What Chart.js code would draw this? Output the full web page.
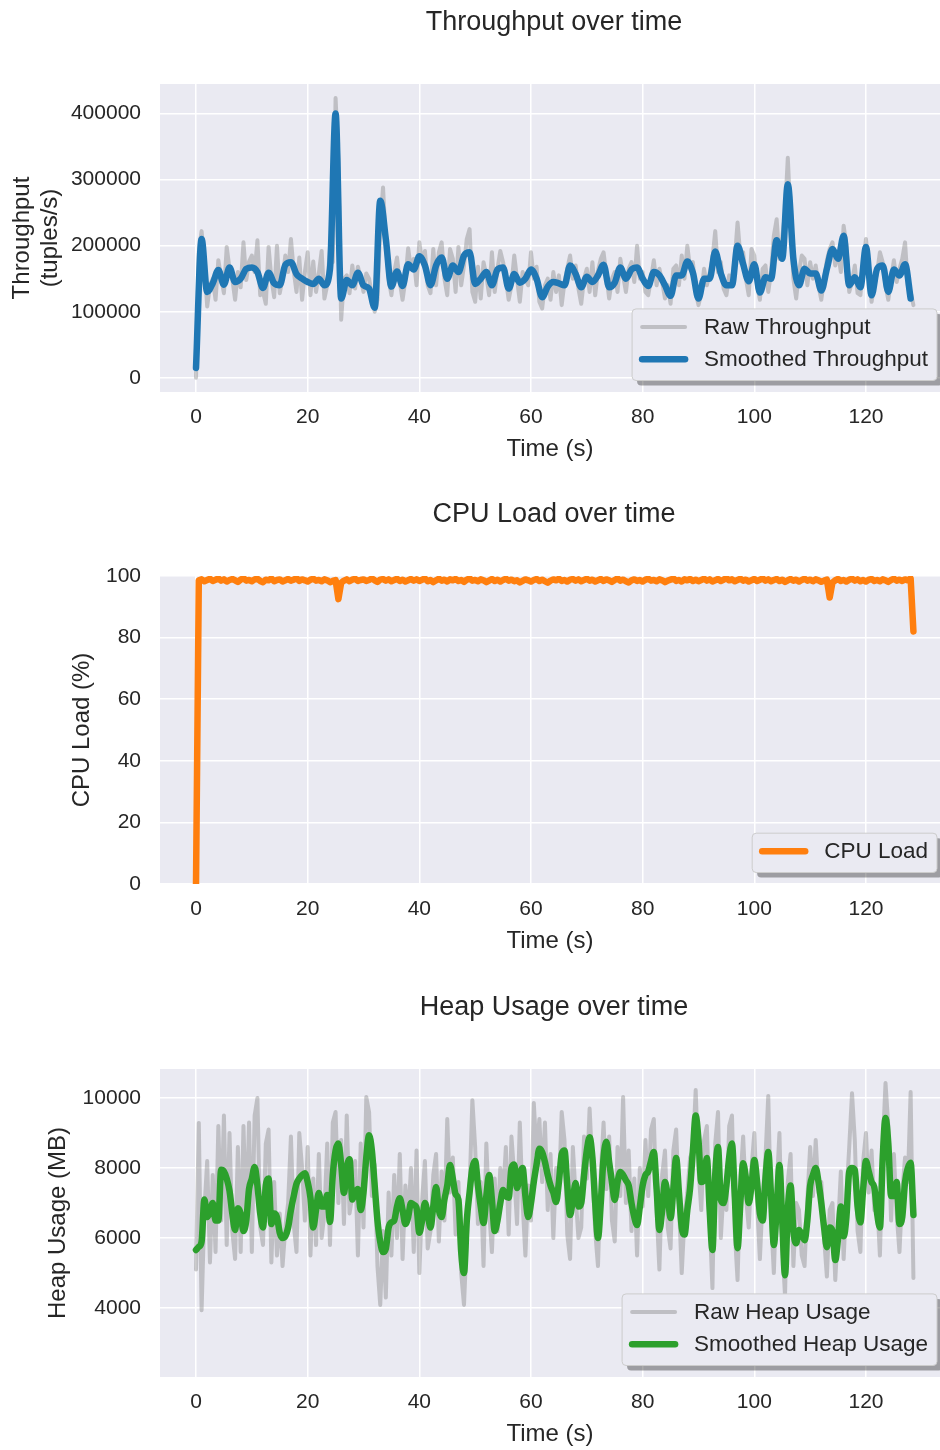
<!DOCTYPE html>
<html>
<head>
  <title>Stream Job Metrics</title>
  <meta charset="UTF-8">
  <script src="https://cdn.jsdelivr.net/npm/chart.js"></script>
  <style>
    body { margin: 0; background: #fff; }
    #wrap { position: relative; width: 940px; height: 1450px; overflow: hidden; }
    #wrap canvas { position: absolute; left: 0; }
  </style>
</head>
<body>
<div id="wrap">
  <canvas id="throughputChart" width="940" height="465" style="top:0px"></canvas>
  <canvas id="cpuChart" width="940" height="465" style="top:492px"></canvas>
  <canvas id="heapChart" width="940" height="465" style="top:985px"></canvas>
</div>

<script>
  // raw metrics are sampled every 0.5 s, the smoothed throughput every 1 s
  const RAW_STEP = 0.5;
  const SMOOTH_STEP = 1;

  const timeTicks = [0, 20, 40, 60, 80, 100, 120];
  const throughputTicks = [0, 100000, 200000, 300000, 400000];
  const cpuTicks = [0, 20, 40, 60, 80, 100];
  const heapTicks = [4000, 6000, 8000, 10000];

  const rawThroughput = [
    0, 190000, 222000, 175000, 108000, 140000, 150000, 118000, 178000, 152000,
    128000, 198000, 165000, 150000, 118000, 160000, 137000, 205000, 148000, 176000,
    185000, 160000, 208000, 125000, 130000, 112000, 198000, 150000, 122000, 200000,
    128000, 150000, 185000, 160000, 210000, 162000, 130000, 182000, 118000, 160000,
    190000, 125000, 176000, 130000, 158000, 192000, 120000, 140000, 195000, 175000,
    423500, 330000, 88000, 150000, 155000, 128000, 170000, 135000, 168000, 150000,
    130000, 158000, 150000, 125000, 100000, 118000, 230000, 288000, 205000, 150000,
    125000, 160000, 182000, 145000, 118000, 148000, 196000, 165000, 180000, 140000,
    205000, 175000, 192000, 140000, 128000, 195000, 140000, 190000, 205000, 150000,
    125000, 195000, 180000, 130000, 198000, 140000, 170000, 210000, 225000, 130000,
    115000, 168000, 120000, 175000, 155000, 125000, 190000, 130000, 165000, 192000,
    175000, 150000, 118000, 140000, 185000, 150000, 115000, 160000, 150000, 140000,
    190000, 150000, 168000, 115000, 105000, 140000, 150000, 118000, 160000, 130000,
    155000, 110000, 145000, 165000, 185000, 150000, 170000, 135000, 112000, 150000,
    165000, 130000, 175000, 125000, 162000, 180000, 190000, 155000, 120000, 150000,
    160000, 130000, 180000, 155000, 130000, 165000, 175000, 145000, 200000, 150000,
    160000, 130000, 125000, 150000, 178000, 140000, 165000, 145000, 120000, 140000,
    112000, 165000, 170000, 140000, 185000, 150000, 200000, 165000, 175000, 130000,
    110000, 128000, 165000, 140000, 158000, 180000, 222000, 160000, 175000, 135000,
    125000, 155000, 150000, 180000, 235000, 185000, 190000, 150000, 125000, 195000,
    185000, 140000, 118000, 165000, 170000, 130000, 160000, 215000, 240000, 180000,
    212000, 250000, 333000, 240000, 150000, 120000, 160000, 185000, 180000, 140000,
    175000, 150000, 170000, 140000, 118000, 150000, 178000, 195000, 205000, 170000,
    190000, 160000, 230000, 200000, 130000, 145000, 170000, 128000, 125000, 170000,
    210000, 165000, 115000, 140000, 160000, 190000, 175000, 140000, 118000, 150000,
    178000, 145000, 165000, 180000, 205000, 140000, 130000, 110000
  ];

  const smoothThroughput = [
    15000, 210000, 130000, 143000, 163000, 141000, 167000, 145000, 150000, 165000,
    167000, 160000, 136000, 159000, 143000, 140000, 171000, 175000, 157000, 150000,
    145000, 142000, 150000, 140000, 165000, 400000, 120000, 148000, 140000, 159000,
    140000, 135000, 106000, 268000, 210000, 138000, 161000, 139000, 172000, 164000,
    184000, 170000, 140000, 170000, 182000, 150000, 170000, 160000, 185000, 190000,
    142000, 150000, 160000, 140000, 164000, 167000, 135000, 157000, 144000, 150000,
    164000, 150000, 122000, 138000, 145000, 143000, 140000, 170000, 157000, 137000,
    153000, 145000, 155000, 171000, 137000, 144000, 167000, 150000, 164000, 167000,
    150000, 139000, 160000, 155000, 140000, 124000, 155000, 155000, 176000, 159000,
    120000, 150000, 150000, 191000, 158000, 140000, 140000, 200000, 172000, 146000,
    172000, 129000, 152000, 150000, 208000, 180000, 293000, 180000, 140000, 165000,
    158000, 158000, 132000, 165000, 195000, 180000, 215000, 140000, 152000, 137000,
    198000, 125000, 165000, 170000, 130000, 164000, 155000, 172000, 120000
  ];

  const cpuLoad = [
    0, 98.6, 98.9, 98.3, 98.7, 99.1, 98.4, 98.8, 99.2, 98.5, 98.9, 98.2, 98.7, 99.0, 98.6, 98.1, 98.8, 99.3, 98.5, 98.7,
    98.3, 98.9, 99.1, 98.4, 98.0, 98.8, 98.6, 99.2, 98.3, 98.7, 98.9, 98.2, 98.6, 99.0, 98.5, 98.8, 99.3, 98.4, 98.9, 98.6,
    98.2, 98.8, 99.1, 98.5, 98.7, 98.3, 98.9, 98.6, 98.0, 98.4, 98.7, 92.5, 97.8, 98.5, 98.9, 98.3, 98.8, 99.1, 98.4, 98.7,
    98.9, 98.4, 98.7, 99.2, 98.6, 98.1, 98.8, 99.0, 98.5, 98.9, 98.3, 98.7, 99.1, 98.4, 98.8, 98.2, 98.6, 99.0, 98.5, 98.9,
    98.4, 98.8, 99.2, 98.3, 98.7, 98.0, 98.6, 99.1, 98.5, 98.8, 98.2, 98.9, 98.6, 99.0, 98.4, 98.7, 98.1, 98.8, 99.2, 98.5,
    98.7, 98.3, 98.9, 98.6, 98.0, 98.5, 99.0, 98.4, 98.8, 98.2, 98.7, 99.1, 98.5, 98.8, 98.3, 98.6, 97.9, 98.4, 98.9, 98.6,
    98.2, 98.7, 99.0, 98.4, 98.8, 98.3, 97.8, 98.5, 98.9, 98.6, 99.1, 98.4, 98.7, 98.2, 98.8, 99.0, 98.5, 98.9, 98.3, 98.7,
    99.1, 98.5, 98.8, 98.2, 98.6, 99.0, 98.4, 98.9, 98.6, 98.1, 98.7, 99.2, 98.5, 98.8, 98.3, 97.9, 98.6, 98.9, 98.4, 98.7,
    98.2, 98.8, 99.1, 98.5, 98.7, 98.3, 98.9, 98.6, 98.0, 98.5, 98.8, 99.2, 98.4, 98.7, 98.2, 98.9, 98.6, 99.0, 98.4, 98.8,
    98.3, 98.7, 99.1, 98.5, 98.9, 98.2, 98.6, 99.0, 98.4, 98.8, 99.3, 98.6, 98.9, 98.3, 98.7, 99.1, 98.5, 98.8, 98.2, 98.6,
    99.0, 98.4, 98.8, 99.2, 98.5, 98.9, 98.3, 98.7, 99.0, 98.4, 98.8, 98.1, 98.6, 99.0, 98.5, 98.8, 98.2, 98.7, 99.1, 98.5,
    98.8, 98.3, 98.9, 98.6, 98.1, 98.5, 98.8, 93.0, 97.9, 98.6, 99.0, 98.4, 98.7, 98.2, 98.8, 99.1, 98.5, 98.9, 98.3, 98.7,
    98.2, 98.8, 99.0, 98.4, 98.7, 98.3, 98.9, 98.6, 98.1, 98.7, 99.1, 98.5, 98.8, 98.4, 98.9, 98.6, 99.2, 82.0
  ];

  const rawHeap = [
    5100, 9290, 3940, 6800, 8200, 5300, 7800, 5600, 9200, 6500, 9500, 5800, 9000, 6200, 5400, 8600, 5600, 9200, 6400, 9300,
    5600, 9500, 10000, 6300, 5800, 8700, 9100, 5300, 7600, 5500, 6700, 5200, 6300, 7000, 8900, 6400, 5600, 9000, 8000, 6500,
    8600, 5500, 7700, 5800, 8400, 6000, 6700, 8700, 5800, 9300, 9600, 7000, 8800, 6400, 9500, 6700, 7200, 8200, 5500, 8700,
    6300, 10030, 9600, 7200, 8100, 5200, 4090, 6200, 4300, 7300, 5500, 7800, 6000, 8400, 5400, 7500, 6500, 8000, 5600, 8500,
    5000, 7100, 8200, 5700, 6200, 7800, 8400, 5900, 7900, 6500, 9400, 7300, 8300, 6100, 7600, 5000, 4090, 6000, 7400, 9940,
    8600, 6400, 7600, 5200, 8700, 6800, 5600, 7700, 6200, 8000, 7200, 8600, 6100, 8900, 7800, 6400, 9300, 7000, 5500, 7500,
    6500, 9860, 8400, 9400, 7600, 9300, 6800, 8400, 6000, 8000, 7300, 9600, 8800, 6100, 5400, 8600, 7200, 6000, 6300, 8900,
    7700, 9700, 8000, 6200, 5200, 7800, 9300, 7400, 8900, 6500, 5900, 8600, 7200, 10030, 7000, 8500, 6200, 7700, 5500, 8000,
    6900, 8800, 7200, 9100, 9400, 6800, 5100, 7800, 8500, 6300, 5700, 8500, 9100, 7000, 5000, 6600, 7300, 8300, 8500, 10230,
    8000, 6800, 8800, 9200, 6500, 4570, 8700, 9600, 6000, 7400, 6800, 9200, 9500, 6200, 4800, 7600, 8900, 7200, 6300, 8000,
    9000, 7000, 5400, 7200, 8300, 10060, 6600, 5000, 7400, 9000, 5800, 4370, 7600, 8400, 5200, 7000, 6800, 5500, 5200, 7100,
    8600, 7200, 8800, 7300, 7600, 6000, 4900, 6800, 7000, 4800, 6300, 7900, 5400, 7200, 8600, 10140, 8800, 6200, 5600, 8200,
    9000, 7300, 8500, 6800, 7100, 5500, 8600, 10430, 9200, 6500, 8400, 6700, 5600, 7300, 8300, 7600, 10170, 4860
  ];

  const smoothHeap = [
    5660, 5750, 5900, 7100, 6600, 6750, 7000, 6500, 6500, 7950, 7900, 7700, 7350, 6700, 6230, 6850, 6700, 6200, 6500, 7400,
    7700, 8030, 7500, 6700, 6300, 7500, 7700, 6400, 6700, 6600, 6150, 6000, 6050, 6300, 6800, 7200, 7550, 7700, 7800, 7850,
    7600, 7150, 6300, 6800, 7290, 6900, 6900, 7230, 6460, 7800, 8500, 8700, 8100, 7290, 8000, 8250, 7100, 7300, 7400, 6800,
    7300, 8300, 8940, 8500, 7510, 6500, 5890, 5600, 5700, 6300, 6450, 6500, 6900, 7140, 6800, 6400, 6600, 7000, 6950, 6860,
    6150, 6500, 7000, 6700, 6300, 6900, 7460, 6800, 6600, 7100, 7500, 8090, 7700, 7250, 7100, 5600, 5000, 6500, 7300, 8000,
    8200, 7500, 6900, 6430, 7200, 7800, 7100, 6200, 6500, 7000, 7370, 7200, 7150, 8000, 8100, 7430, 7800, 8000, 7200, 6600,
    7000, 7600, 8100, 8550, 8450, 8170, 7800, 7500, 7300, 7030, 7600, 8400, 8500, 7500, 6660, 7100, 7570, 6900, 7000, 7800,
    8500, 8880, 8300, 7000, 6000, 7000, 8300, 8750, 8170, 7600, 7090, 7600, 7890, 7800, 7650, 7500, 7000, 6600, 6370, 6900,
    7500, 7800, 7900, 8200, 8460, 7400, 6230, 6800, 7600, 7200, 6570, 7400, 8290, 7300, 6300, 6100, 6800, 7430, 8500, 9500,
    8800, 7600, 7700, 8290, 6800, 5660, 7800, 8600, 7100, 7000, 7500, 8300, 8700, 7200, 5710, 7000, 8140, 7700, 7000, 7500,
    8230, 7600, 6700, 6500, 7700, 8460, 7200, 5800, 6800, 8090, 6500, 4940, 6800, 7500, 6200, 5850, 6230, 6100, 5940, 6500,
    7500, 7800, 8000, 7600, 7000, 6300, 5740, 6300, 6200, 5370, 6000, 6900, 6050, 6600, 7900, 8000, 7940, 6900, 6450, 7400,
    8200, 7900, 7600, 7450, 6700, 6300, 8300, 9430, 8700, 7200, 7200, 7600, 6400, 6600, 7600, 8000, 8150, 6660
  ];

  const FONT = '"Liberation Sans", Arial, Helvetica, sans-serif';
  const INK = '#262626';
  const PANEL_BG = '#EAEAF2';
  const RAW_GREY = 'rgba(128, 128, 128, 0.4)';

  // x range includes the usual 5% side margin; the right part runs off the page
  const X_MIN = -6.45;
  const X_MAX = 133.26;

  function toPoints(values, step) {
    return values.map((v, i) => ({ x: i * step, y: v }));
  }

  // grey panel, panel title and a shadowed legend in the lower right corner
  const panelDecor = {
    id: 'panelDecor',
    beforeDraw(chart) {
      const { ctx, chartArea: a } = chart;
      ctx.save();
      ctx.fillStyle = PANEL_BG;
      ctx.fillRect(a.left, a.top, a.right - a.left, a.bottom - a.top);
      ctx.restore();
    },
    afterDraw(chart, args, opts) {
      const { ctx, chartArea: a } = chart;
      ctx.save();
      ctx.fillStyle = INK;
      ctx.font = '27px ' + FONT;
      ctx.textAlign = 'center';
      ctx.textBaseline = 'middle';
      ctx.fillText(opts.title, 554, 23);

      const sets = chart.data.datasets;
      ctx.font = '22.5px ' + FONT;
      const textW = Math.max(...sets.map(d => ctx.measureText(d.label).width));
      const w = 72 + textW + 9;
      const h = 7 + 32.3 * sets.length;
      const x = 937 - w;
      const y = a.bottom - 11.5 - h;

      ctx.fillStyle = 'rgba(0, 0, 0, 0.33)';
      ctx.beginPath();
      ctx.roundRect(x + 5, y + 5, w, h, 4);
      ctx.fill();
      ctx.fillStyle = PANEL_BG;
      ctx.strokeStyle = '#cccccc';
      ctx.lineWidth = 1;
      ctx.beginPath();
      ctx.roundRect(x, y, w, h, 4);
      ctx.fill();
      ctx.stroke();

      sets.forEach((d, i) => {
        const cy = y + 18 + 32.3 * i;
        ctx.strokeStyle = d.borderColor;
        ctx.lineWidth = d.borderWidth;
        ctx.lineCap = 'round';
        ctx.beginPath();
        ctx.moveTo(x + 10, cy);
        ctx.lineTo(x + 53, cy);
        ctx.stroke();
        ctx.fillStyle = INK;
        ctx.textAlign = 'left';
        ctx.fillText(d.label, x + 72, cy + 1);
      });
      ctx.restore();
    }
  };

  function makePanel(id, cfg) {
    return new Chart(document.getElementById(id), {
      type: 'line',
      data: { datasets: cfg.datasets },
      options: {
        responsive: false,
        animation: false,
        devicePixelRatio: 1,
        layout: { padding: { top: 84, right: 0, bottom: 0, left: 0 } },
        elements: {
          point: { radius: 0 },
          line: { borderJoinStyle: 'round', borderCapStyle: 'round' }
        },
        plugins: {
          legend: { display: false },
          tooltip: { enabled: false },
          panelDecor: { title: cfg.title }
        },
        scales: {
          x: {
            type: 'linear',
            min: X_MIN,
            max: X_MAX,
            afterBuildTicks: s => { s.ticks = timeTicks.map(v => ({ value: v })); },
            afterFit: s => { s.height = 73; },
            grid: { color: '#ffffff', lineWidth: 1.5, drawTicks: false },
            border: { display: false },
            ticks: {
              color: INK, font: { family: FONT, size: 21 }, padding: 13,
              maxRotation: 0, autoSkip: false, callback: v => String(v)
            },
            title: {
              display: true, text: 'Time (s)', color: INK,
              font: { family: FONT, size: 24 }, padding: { top: 0, bottom: 1 }
            }
          },
          y: {
            min: cfg.yMin,
            max: cfg.yMax,
            afterBuildTicks: s => { s.ticks = cfg.yTicks.map(v => ({ value: v })); },
            afterFit: s => { s.width = 160; },
            grid: { color: '#ffffff', lineWidth: 1.5, drawTicks: false },
            border: { display: false },
            ticks: {
              color: INK, font: { family: FONT, size: 21 }, padding: 19,
              autoSkip: false, callback: v => String(v)
            },
            title: {
              display: true, text: cfg.yTitle, color: INK,
              font: { family: FONT, size: 24, lineHeight: 1.15 },
              padding: { top: cfg.yTitlePad, bottom: 0 }
            }
          }
        }
      },
      plugins: [panelDecor]
    });
  }

  makePanel('throughputChart', {
    title: 'Throughput over time',
    yTitle: ['Throughput', '(tuples/s)'],
    yTitlePad: 9,
    yMin: -21490,
    yMax: 444650,
    yTicks: throughputTicks,
    datasets: [
      {
        label: 'Raw Throughput',
        data: toPoints(rawThroughput, RAW_STEP),
        borderColor: RAW_GREY, borderWidth: 4, tension: 0, order: 1
      },
      {
        label: 'Smoothed Throughput',
        data: toPoints(smoothThroughput, SMOOTH_STEP),
        borderColor: '#1f77b4', borderWidth: 6.5,
        cubicInterpolationMode: 'monotone', order: 0
      }
    ]
  });

  makePanel('cpuChart', {
    title: 'CPU Load over time',
    yTitle: 'CPU Load (%)',
    yTitlePad: 69,
    yMin: 0,
    yMax: 100,
    yTicks: cpuTicks,
    datasets: [
      {
        label: 'CPU Load',
        data: toPoints(cpuLoad, RAW_STEP),
        borderColor: '#ff7f0e', borderWidth: 6.5, tension: 0
      }
    ]
  });

  makePanel('heapChart', {
    title: 'Heap Usage over time',
    yTitle: 'Heap Usage (MB)',
    yTitlePad: 45,
    yMin: 2030,
    yMax: 10830,
    yTicks: heapTicks,
    datasets: [
      {
        label: 'Raw Heap Usage',
        data: toPoints(rawHeap, RAW_STEP),
        borderColor: RAW_GREY, borderWidth: 4, tension: 0, order: 1
      },
      {
        label: 'Smoothed Heap Usage',
        data: toPoints(smoothHeap, RAW_STEP),
        borderColor: '#2ca02c', borderWidth: 6.5,
        cubicInterpolationMode: 'monotone', order: 0
      }
    ]
  });
</script>
</body>
</html>
